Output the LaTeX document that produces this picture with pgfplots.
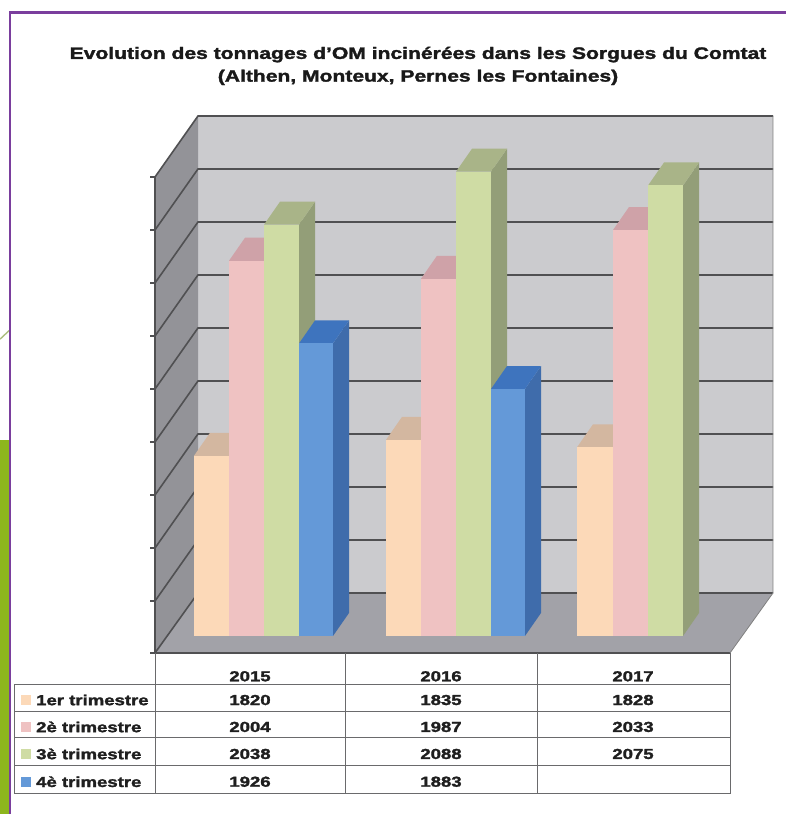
\documentclass[border=0pt]{standalone}
\usepackage{pgfplots}
\pgfplotsset{compat=1.18}
\usepackage{fontspec}
\setmainfont[BoldFeatures={FakeBold=1.6}]{Liberation Sans}
\definecolor{wall}{HTML}{CBCBCE}
\definecolor{lwall}{HTML}{939398}
\definecolor{floorc}{HTML}{A2A2A8}
\definecolor{gridc}{HTML}{505052}
\definecolor{frame}{HTML}{7A3E9D}
\definecolor{leaf}{HTML}{8DB61E}
\definecolor{tline}{HTML}{6A6A6C}
\definecolor{aF}{HTML}{FCD9B8}\definecolor{aT}{HTML}{D3B7A0}\definecolor{aS}{HTML}{C8AE98}
\definecolor{bF}{HTML}{EFC2C2}\definecolor{bT}{HTML}{CFA2A8}\definecolor{bS}{HTML}{BF9A9E}
\definecolor{cF}{HTML}{CFDCA4}\definecolor{cT}{HTML}{A9B488}\definecolor{cS}{HTML}{939E78}
\definecolor{dF}{HTML}{6499D8}\definecolor{dT}{HTML}{3E74BE}\definecolor{dS}{HTML}{3F6CAB}
\newcommand{\bartd}[6]{%
  \pgfmathsetmacro\xa{#1+16}\pgfmathsetmacro\xb{#2+16}%
  \pgfmathsetmacro\vt{#3+21.7}%
  \addplot[draw=none,fill=#5] coordinates {(#2,1650)(\xb,1671.7)(\xb,\vt)(#2,#3)} --cycle;
  \addplot[draw=none,fill=#6] coordinates {(#1,#3)(\xa,\vt)(\xb,\vt)(#2,#3)} --cycle;
  \addplot[draw=none,fill=#4] coordinates {(#1,1650)(#2,1650)(#2,#3)(#1,#3)} --cycle;
}
\newcommand{\diag}[2]{%
  \addplot[gridc,line width=1.6pt] coordinates {(155,#1)(198,#2)(773,#2)};
  \addplot[gridc,line width=1.2pt] coordinates {(150,#1)(155,#1)};
}
\newcommand{\hl}[3]{\addplot[tline,line width=1pt] coordinates {(#1,#3)(#2,#3)};}
\newcommand{\vl}[3]{\addplot[tline,line width=1pt] coordinates {(#1,#2)(#1,#3)};}
\newcommand{\tb}[3]{\node[text=black!88,inner sep=0pt,anchor=center] at (axis cs:#1,#2) {\fontsize{14.5}{16}\selectfont\bfseries\scalebox{1.28}[1]{#3}};}
\newcommand{\lb}[2]{\node[text=black!88,inner sep=0pt,anchor=west] at (axis cs:36,#1) {\fontsize{14.5}{16}\selectfont\bfseries\scalebox{1.28}[1]{#2}};}
\newcommand{\key}[2]{\addplot[draw=none,fill=#2] coordinates {(21,#1-4.7)(31,#1-4.7)(31,#1+4.7)(21,#1+4.7)} --cycle;}
\begin{document}
\begin{tikzpicture}
\begin{axis}[
  width=786pt,height=814pt,scale only axis,hide axis,
  xmin=0,xmax=786,ymin=1482.08,ymax=2250,no marks]
% page
\addplot[draw=none,fill=white] coordinates {(0,1482.08)(786,1482.08)(786,2250)(0,2250)} --cycle;
\addplot[draw=none,fill=leaf] coordinates {(0,1482.08)(9,1482.08)(9,1835)(0,1835)} --cycle;
\addplot[leaf!60!gray!70!white,line width=1.4pt] coordinates {(0,1930)(9,1938)};
\addplot[frame,line width=2.6pt] coordinates {(10,1482.08)(10,2238)(786,2238)};
% walls and floor
\addplot[draw=none,fill=wall] coordinates {(198,1690.6)(773,1690.6)(773,2140.6)(198,2140.6)} --cycle;
\addplot[draw=none,fill=lwall] coordinates {(155,1634)(198,1690.6)(198,2140.6)(155,2083)} --cycle;
\addplot[draw=none,fill=floorc] coordinates {(155,1634)(730,1634)(773,1690.6)(198,1690.6)} --cycle;
\diag{2083}{2140.6}
\diag{2033}{2090.6}
\diag{1983}{2040.6}
\diag{1933}{1990.6}
\diag{1883}{1940.6}
\diag{1833}{1890.6}
\diag{1783}{1840.6}
\diag{1733}{1790.6}
\diag{1683}{1740.6}
\diag{1634}{1690.6}
\addplot[gridc,line width=1.6pt] coordinates {(155,2083)(155,1634)(730,1634)};
\addplot[gray,line width=.8pt] coordinates {(730,1634)(773,1690.6)(773,2140.6)};
% 2015
\bartd{194}{229}{1820}{aF}{aS}{aT}
\bartd{229}{264}{2004}{bF}{bS}{bT}
\bartd{264}{299}{2038}{cF}{cS}{cT}
\bartd{299}{333}{1926}{dF}{dS}{dT}
% 2016
\bartd{386}{421}{1835}{aF}{aS}{aT}
\bartd{421}{456}{1987}{bF}{bS}{bT}
\bartd{456}{491}{2088}{cF}{cS}{cT}
\bartd{491}{525}{1883}{dF}{dS}{dT}
% 2017
\bartd{577}{613}{1828}{aF}{aS}{aT}
\bartd{613}{648}{2033}{bF}{bS}{bT}
\bartd{648}{683}{2075}{cF}{cS}{cT}
% table (y = 2250 - px/1.06)
\hl{14}{730}{1603.8}
\hl{14}{730}{1578.8}
\hl{14}{730}{1553.8}
\hl{14}{730}{1528.3}
\hl{14}{730}{1501}
\vl{14}{1501}{1603.8}
\vl{155}{1501}{1634}
\vl{345}{1501}{1634}
\vl{537}{1501}{1634}
\vl{730}{1501}{1634}
\tb{250}{1612}{2015}
\tb{441}{1612}{2016}
\tb{633}{1612}{2017}
\tb{250}{1589.6}{1820}
\tb{441}{1589.6}{1835}
\tb{633}{1589.6}{1828}
\tb{250}{1564.2}{2004}
\tb{441}{1564.2}{1987}
\tb{633}{1564.2}{2033}
\tb{250}{1538.7}{2038}
\tb{441}{1538.7}{2088}
\tb{633}{1538.7}{2075}
\tb{250}{1512.5}{1926}
\tb{441}{1512.5}{1883}
\key{1589.6}{aF}
\key{1564.2}{bF}
\key{1538.7}{cF}
\key{1512.5}{dF}
\lb{1589.6}{1er trimestre}
\lb{1564.2}{2è trimestre}
\lb{1538.7}{3è trimestre}
\lb{1512.5}{4è trimestre}
\node[text=black!90,inner sep=0pt] at (axis cs:418,2198.5) {\fontsize{16.5}{18}\selectfont\bfseries\scalebox{1.277}[1]{Evolution des tonnages d'OM incinérées dans les Sorgues du Comtat}};
\node[text=black!90,inner sep=0pt] at (axis cs:418,2177) {\fontsize{16.5}{18}\selectfont\bfseries\scalebox{1.277}[1]{(Althen, Monteux, Pernes les Fontaines)}};
\end{axis}
\end{tikzpicture}
\end{document}
